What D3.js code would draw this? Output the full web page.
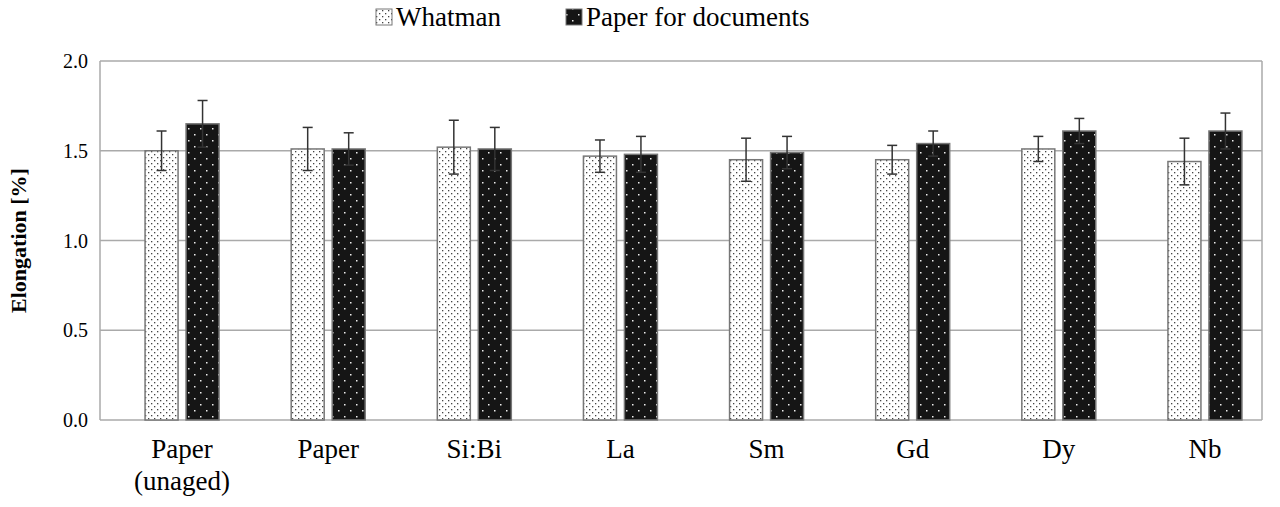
<!DOCTYPE html><html><head><meta charset="utf-8">
<script src="https://cdn.jsdelivr.net/npm/d3@7"></script>
<style>body{margin:0;background:#fff}</style></head><body>
<svg id="c" width="1280" height="507" font-family="'Liberation Serif','DejaVu Serif','Times New Roman',serif"></svg>
<script>
const categories=["Paper|(unaged)","Paper","Si:Bi","La","Sm","Gd","Dy","Nb"];
const seriesNames=["Whatman","Paper for documents"];
const whatman=[1.50,1.51,1.52,1.47,1.45,1.45,1.51,1.44];
const whatmanErr=[0.11,0.12,0.15,0.09,0.12,0.08,0.07,0.13];
const docs=[1.65,1.51,1.51,1.48,1.49,1.54,1.61,1.61];
const docsErr=[0.13,0.09,0.12,0.10,0.09,0.07,0.07,0.10];
const yTicks=[0,0.5,1.0,1.5,2.0];

const svg=d3.select("#c");
const m={l:100,r:1262,t:61,b:420};
const defs=svg.append("defs");
const p1=defs.append("pattern").attr("id","pw").attr("patternUnits","userSpaceOnUse").attr("width",6).attr("height",6);
p1.append("rect").attr("width",6).attr("height",6).attr("fill","#fff");
p1.append("rect").attr("x",1).attr("y",1).attr("width",1.3).attr("height",1.3).attr("fill","#444");
p1.append("rect").attr("x",4).attr("y",4).attr("width",1.3).attr("height",1.3).attr("fill","#444");
const p2=defs.append("pattern").attr("id","pd").attr("patternUnits","userSpaceOnUse").attr("width",12).attr("height",12);
p2.append("rect").attr("width",12).attr("height",12).attr("fill","#151515");
p2.append("rect").attr("x",2).attr("y",2).attr("width",1.5).attr("height",1.5).attr("fill","#eee");
p2.append("rect").attr("x",8).attr("y",8).attr("width",1.5).attr("height",1.5).attr("fill","#eee");

const x=d3.scaleBand().domain(categories).range([109,1278]);
const y=d3.scaleLinear().domain([0,2]).range([m.b,m.t]);
svg.append("g").selectAll("line").data(yTicks).join("line")
 .attr("x1",m.l).attr("x2",m.r).attr("y1",d=>y(d)).attr("y2",d=>y(d)).attr("stroke","#aaa").attr("stroke-width",1.5);
svg.append("line").attr("x1",m.l).attr("x2",m.l).attr("y1",m.t).attr("y2",m.b).attr("stroke","#aaa").attr("stroke-width",1.5);
svg.append("line").attr("x1",m.r).attr("x2",m.r).attr("y1",m.t).attr("y2",m.b).attr("stroke","#aaa").attr("stroke-width",1.5);
svg.append("g").selectAll("text").data(yTicks).join("text")
 .attr("x",m.l-12).attr("y",d=>y(d)).attr("dy","0.35em").attr("text-anchor","end").attr("font-size",20).text(d=>d.toFixed(1));
svg.append("text").attr("transform",`translate(26,${(m.t+m.b)/2}) rotate(-90)`).attr("text-anchor","middle")
 .attr("font-size",22).attr("font-weight","bold").text("Elongation [%]");

const bw=33,gap=8;
const series=[{v:whatman,e:whatmanErr,f:"url(#pw)",off:-gap/2-bw},{v:docs,e:docsErr,f:"url(#pd)",off:gap/2}];
series.forEach(s=>{
 const g=svg.append("g");
 categories.forEach((c,i)=>{
  const cx=x(c)+x.bandwidth()/2;
  g.append("rect").attr("x",cx+s.off).attr("width",bw).attr("y",y(s.v[i])).attr("height",y(0)-y(s.v[i]))
   .attr("fill",s.f).attr("stroke","#777").attr("stroke-width",1.5);
  const ex=cx+s.off+bw/2;
  g.append("line").attr("x1",ex).attr("x2",ex).attr("y1",y(s.v[i]+s.e[i])).attr("y2",y(s.v[i]-s.e[i])).attr("stroke","#333").attr("stroke-width",1.5);
  [s.v[i]+s.e[i],s.v[i]-s.e[i]].forEach(v=>g.append("line").attr("x1",ex-5).attr("x2",ex+5).attr("y1",y(v)).attr("y2",y(v)).attr("stroke","#333").attr("stroke-width",1.5));
 });
});
categories.forEach(c=>{
 const t=svg.append("text").attr("x",x(c)+x.bandwidth()/2).attr("y",458).attr("text-anchor","middle").attr("font-size",27);
 c.split("|").forEach((l,j)=>t.append("tspan").attr("x",x(c)+x.bandwidth()/2).attr("dy",j?32:0).text(l));
});
const lg=[{n:seriesNames[0],f:"url(#pw)",x:376},{n:seriesNames[1],f:"url(#pd)",x:566}];
lg.forEach(l=>{
 svg.append("rect").attr("x",l.x).attr("y",9).attr("width",16).attr("height",16).attr("fill",l.f).attr("stroke","#777");
 svg.append("text").attr("x",l.x+20).attr("y",26).attr("font-size",27).text(l.n);
});
</script></body></html>
